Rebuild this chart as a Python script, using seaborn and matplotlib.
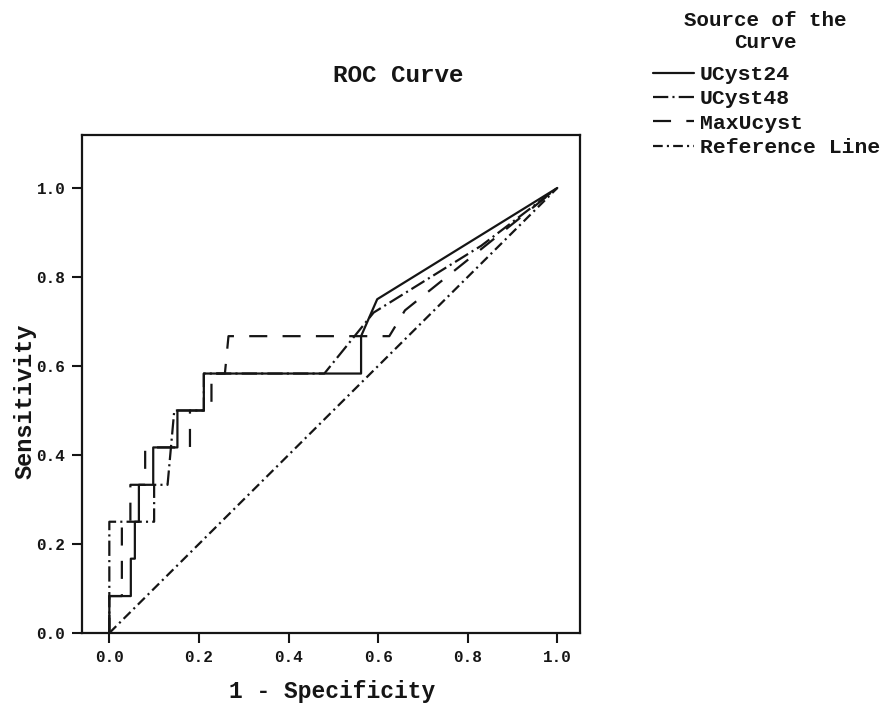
import matplotlib
matplotlib.use("Agg")
import pandas as pd
import seaborn as sns
from matplotlib import pyplot as plt

# ROC points (1 - specificity, sensitivity)
ucyst24_fpr = [0, 0, 0.048, 0.048, 0.057, 0.057, 0.066, 0.066, 0.098, 0.098, 0.152, 0.152,
               0.211, 0.211, 0.562, 0.562, 0.598, 1.0]
ucyst24_tpr = [0, 0.083, 0.083, 0.167, 0.167, 0.25, 0.25, 0.333, 0.333, 0.417, 0.417, 0.5,
               0.5, 0.583, 0.583, 0.667, 0.75, 1.0]

ucyst48_fpr = [0, 0, 0.1, 0.1, 0.13, 0.145, 0.211, 0.211, 0.48, 0.59, 0.83, 1.0]
ucyst48_tpr = [0, 0.25, 0.25, 0.333, 0.333, 0.5, 0.5, 0.583, 0.583, 0.72, 0.87, 1.0]

maxucyst_fpr = [0, 0, 0.028, 0.028, 0.047, 0.047, 0.08, 0.08, 0.18, 0.18, 0.228, 0.228,
                0.258, 0.266, 0.625, 0.66, 1.0]
maxucyst_tpr = [0, 0.083, 0.083, 0.25, 0.25, 0.333, 0.333, 0.417, 0.417, 0.5, 0.5, 0.583,
                0.583, 0.667, 0.667, 0.725, 1.0]

ref_fpr = [0, 1.0]
ref_tpr = [0, 1.0]

names = ["UCyst24", "UCyst48", "MaxUcyst", "Reference Line"]
ticks = [0.0, 0.2, 0.4, 0.6, 0.8, 1.0]

sns.set_theme(style="white")
plt.rcParams['font.family'] = ['Liberation Mono', 'DejaVu Sans Mono']
plt.rcParams['lines.scale_dashes'] = False

fig = plt.figure(figsize=(8.81, 7.09), dpi=100)
ax = fig.add_axes([82 / 881, 1 - 633 / 709, 498 / 881, 498 / 709])

ink = "#151515"
styles = ["-", (0, (11, 3, 1.5, 3)), (0, (13, 11)), (0, (7, 3, 1.5, 3))]
curves = [(ucyst24_fpr, ucyst24_tpr), (ucyst48_fpr, ucyst48_tpr),
          (maxucyst_fpr, maxucyst_tpr), (ref_fpr, ref_tpr)]

for name, (fx, ty), ls in zip(names, curves, styles):
    df = pd.DataFrame({"fpr": fx, "tpr": ty})
    sns.lineplot(data=df, x="fpr", y="tpr", sort=False, estimator=None, ax=ax,
                 color=ink, linewidth=1.6, linestyle=ls, label=name, legend=False)

ax.set_xlim(-0.061, 1.0507)
ax.set_ylim(0, 1.119)
ax.set_xticks(ticks)
ax.set_yticks(ticks)
ax.set_xticklabels([f"{t:.1f}" for t in ticks], fontweight="bold")
ax.set_yticklabels([f"{t:.1f}" for t in ticks], fontweight="bold")
ax.tick_params(direction="out", length=7, width=1.5, pad=5, labelsize=11.5,
               colors=ink, bottom=True, left=True)
for sp in ax.spines.values():
    sp.set_color(ink)
    sp.set_linewidth(1.6)

ax.set_xlabel("1 - Specificity", fontsize=16.5, fontweight="bold", color=ink)
ax.set_ylabel("Sensitivity", fontsize=17, fontweight="bold", color=ink)
ax.xaxis.set_label_coords(0.502, -0.118)
ax.xaxis.label.set_va("center")
ax.yaxis.set_label_coords(-0.1145, 0.466)
ax.yaxis.label.set_va("center")

fig.text(398 / 881, 1 - 76 / 709, "ROC Curve", ha="center", va="center",
         fontsize=17.5, fontweight="bold", color=ink)

# legend heading, drawn as two centred lines like the original
fig.text(765 / 881, 1 - 20 / 709, "Source of the", ha="center", va="center",
         fontsize=15, fontweight="bold", color=ink)
fig.text(765 / 881, 1 - 42 / 709, "Curve", ha="center", va="center",
         fontsize=15, fontweight="bold", color=ink)

handles = ax.get_lines()[:4]
leg = fig.legend(handles, names, loc="upper left", bbox_to_anchor=(653 / 881, 1 - 65 / 709),
                 frameon=False, fontsize=15.4, handlelength=1.9, handletextpad=0.3,
                 labelspacing=0.25, borderaxespad=0, borderpad=0,
                 prop={"weight": "bold", "size": 15.4})
for t in leg.get_texts():
    t.set_color(ink)

fig.savefig("out.png", dpi=100, facecolor="white")
